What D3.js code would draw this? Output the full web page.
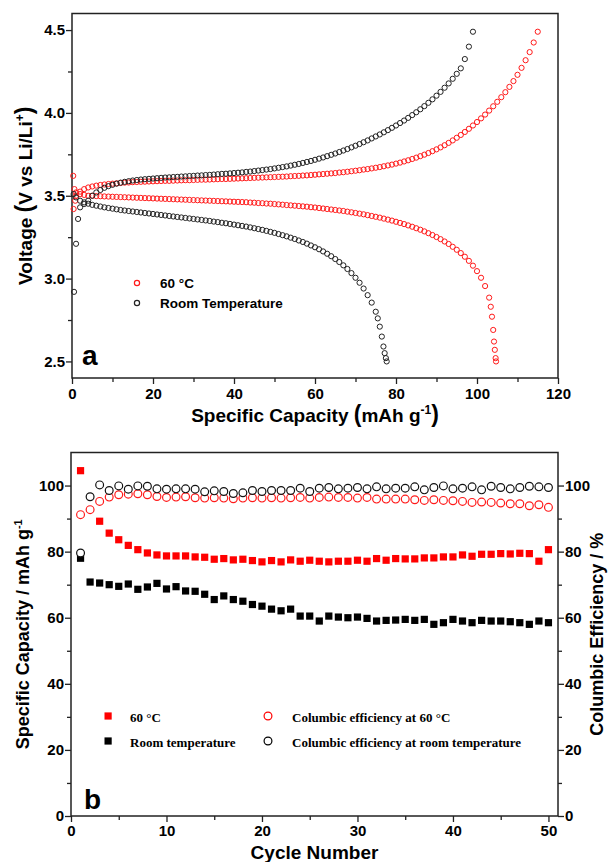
<!DOCTYPE html>
<html>
<head>
<meta charset="utf-8">
<script src="https://cdn.jsdelivr.net/npm/d3@7"></script>
<style>
body { margin: 0; background: #fff; }
svg { display: block; }
text { font-family: "Liberation Sans", Arial, sans-serif; font-weight: bold; fill: #000; }
.serif { font-family: "Liberation Serif", "Times New Roman", serif; }
</style>
</head>
<body>
<div id="chart-area"></div>
<script>
/*
*  charge / discharge curves (a) and cycling (b)
*/

// ---- panel a data : [capacity mAh/g, voltage V] ----
// first few points, then one reading per 1 mAh/g, then the steep end
var redChargeHead = [[0.4, 3.42], [0.8, 3.47]];
var redChargeV = [3.50, 3.525, 3.54, 3.55, 3.556, 3.561, 3.565, 3.568, 3.571, 3.573,
	3.575, 3.577, 3.579, 3.580, 3.582, 3.583, 3.584, 3.585, 3.586, 3.587,
	3.588, 3.589, 3.590, 3.590, 3.591, 3.592, 3.593, 3.594, 3.594, 3.595,
	3.596, 3.597, 3.597, 3.598, 3.599, 3.600, 3.601, 3.601, 3.602, 3.603,
	3.604, 3.605, 3.606, 3.607, 3.608, 3.609, 3.610, 3.611, 3.612, 3.613,
	3.614, 3.615, 3.616, 3.618, 3.619, 3.620, 3.622, 3.623, 3.625, 3.627,
	3.629, 3.631, 3.633, 3.635, 3.637, 3.640, 3.642, 3.645, 3.648, 3.651,
	3.654, 3.658, 3.661, 3.665, 3.669, 3.673, 3.678, 3.683, 3.688, 3.694,
	3.700, 3.707, 3.714, 3.722, 3.730, 3.739, 3.748, 3.758, 3.769, 3.780,
	3.792, 3.805, 3.819, 3.834, 3.850, 3.867, 3.885, 3.904, 3.924, 3.945,
	3.967, 3.990, 4.014, 4.040, 4.067, 4.095, 4.125, 4.157, 4.192, 4.230,
	4.272, 4.318, 4.367, 4.425, 4.49];
var redChargeTail = [];

var redDisHead = [[0.3, 3.62], [0.6, 3.54]];
var redDisV = [3.52, 3.51, 3.505, 3.50, 3.50, 3.498, 3.497, 3.496, 3.495, 3.494,
	3.493, 3.492, 3.491, 3.490, 3.489, 3.488, 3.487, 3.486, 3.485, 3.484,
	3.483, 3.482, 3.481, 3.480, 3.479, 3.478, 3.477, 3.476, 3.475, 3.474,
	3.473, 3.472, 3.471, 3.470, 3.469, 3.468, 3.467, 3.466, 3.465, 3.464,
	3.463, 3.462, 3.461, 3.459, 3.458, 3.456, 3.455, 3.453, 3.452, 3.450,
	3.448, 3.446, 3.444, 3.442, 3.440, 3.438, 3.436, 3.434, 3.431, 3.429,
	3.426, 3.423, 3.420, 3.417, 3.414, 3.411, 3.408, 3.404, 3.400, 3.396,
	3.392, 3.388, 3.383, 3.378, 3.373, 3.368, 3.362, 3.356, 3.350, 3.343,
	3.336, 3.329, 3.321, 3.313, 3.304, 3.295, 3.285, 3.274, 3.263, 3.251,
	3.238, 3.224, 3.209, 3.192, 3.174, 3.154, 3.132, 3.107, 3.078, 3.045,
	3.005, 2.955, 2.885];
var redDisTail = [[103.4, 2.83], [103.7, 2.77], [104.0, 2.69], [104.2, 2.62],
	[104.4, 2.57], [104.6, 2.52], [104.7, 2.50]];

var rtChargeHead = [[0.5, 2.92], [1.0, 3.21], [1.5, 3.36], [2.0, 3.43]];
var rtChargeV = [3.45, 3.47, 3.50, 3.52, 3.535, 3.548, 3.558, 3.566, 3.573,
	3.579, 3.584, 3.588, 3.592, 3.595, 3.598, 3.600, 3.602, 3.604, 3.606,
	3.608, 3.610, 3.611, 3.613, 3.614, 3.616, 3.617, 3.619, 3.620, 3.622,
	3.623, 3.625, 3.626, 3.628, 3.630, 3.632, 3.633, 3.635, 3.637, 3.639,
	3.641, 3.644, 3.646, 3.649, 3.652, 3.655, 3.658, 3.661, 3.665, 3.669,
	3.673, 3.677, 3.682, 3.687, 3.692, 3.698, 3.704, 3.710, 3.717, 3.724,
	3.731, 3.739, 3.747, 3.755, 3.764, 3.773, 3.782, 3.792, 3.802, 3.812,
	3.823, 3.834, 3.846, 3.858, 3.870, 3.883, 3.896, 3.910, 3.924, 3.939,
	3.954, 3.970, 3.987, 4.004, 4.022, 4.041, 4.061, 4.082, 4.104, 4.127,
	4.152, 4.178, 4.206, 4.236, 4.269, 4.325, 4.40, 4.49];
var rtChargeTail = [];

var rtDisHead = [[0.4, 3.51]];
var rtDisV = [3.49, 3.47, 3.46, 3.452, 3.445, 3.44, 3.435, 3.43, 3.426, 3.422,
	3.418, 3.414, 3.411, 3.408, 3.405, 3.402, 3.399, 3.396, 3.393, 3.390,
	3.387, 3.384, 3.381, 3.378, 3.375, 3.372, 3.369, 3.366, 3.363, 3.360,
	3.357, 3.354, 3.351, 3.348, 3.344, 3.341, 3.337, 3.334, 3.330, 3.326,
	3.322, 3.318, 3.314, 3.309, 3.304, 3.299, 3.294, 3.288, 3.282, 3.276,
	3.269, 3.262, 3.255, 3.247, 3.239, 3.230, 3.221, 3.211, 3.200, 3.189,
	3.177, 3.164, 3.150, 3.135, 3.118, 3.100, 3.080, 3.058, 3.033, 3.005,
	2.975, 2.940, 2.900, 2.855, 2.80];
var rtDisTail = [[75.5, 2.76], [76.0, 2.71], [76.5, 2.65], [76.9, 2.59],
	[77.2, 2.55], [77.5, 2.52], [77.7, 2.50]];

// ---- panel b data : cycle 1..50 ----
var cycles = d3.range(1, 51);
var cap60 = [104.5, null, 89.2, 85.6, 83.6, 81.9, 80.6, 79.6, 79.0, 78.7,
	78.7, 78.7, 78.4, 78.3, 77.7, 77.9, 77.5, 77.7, 77.3, 76.9,
	77.3, 76.9, 77.5, 77.1, 77.4, 77.1, 76.9, 77.1, 77.1, 77.4,
	77.1, 77.9, 77.4, 77.9, 77.8, 77.8, 78.1, 78.1, 78.4, 78.4,
	79.0, 78.6, 79.2, 79.2, 79.4, 79.3, 79.5, 79.4, 77.1, 80.6];
var capRT = [78.0, 70.8, 70.5, 70.0, 69.5, 70.2, 68.6, 69.3, 70.4, 68.7,
	69.4, 68.1, 68.0, 67.1, 65.5, 66.6, 65.5, 65.0, 64.0, 63.5,
	62.6, 62.1, 62.6, 60.5, 60.5, 59.0, 60.5, 60.2, 60.0, 60.2,
	59.8, 59.0, 59.2, 59.3, 59.5, 59.2, 59.5, 58.0, 58.5, 59.5,
	59.0, 58.5, 59.2, 59.0, 59.0, 58.8, 58.5, 58.0, 59.0, 58.5];
var ce60 = [91.2, 92.7, 95.2, 96.5, 97.2, 97.4, 97.5, 97.2, 96.7, 96.4,
	96.5, 96.6, 96.3, 96.2, 96.3, 96.2, 96.0, 96.2, 96.3, 96.2,
	96.3, 96.2, 96.3, 96.4, 96.2, 96.4, 96.5, 96.4, 96.4, 96.2,
	96.4, 95.9, 95.9, 95.9, 95.9, 95.7, 95.5, 95.7, 95.5, 95.4,
	95.2, 94.9, 95.0, 94.9, 94.7, 94.5, 94.5, 93.9, 94.2, 93.4];
var ceRT = [79.6, 96.6, 100.2, 98.5, 99.9, 98.9, 99.9, 99.8, 99.0, 98.9,
	99.0, 99.0, 98.9, 98.1, 98.4, 98.2, 97.6, 97.8, 98.5, 98.2,
	98.5, 98.5, 98.5, 99.2, 98.2, 99.2, 99.4, 99.0, 99.2, 99.4,
	99.0, 99.6, 99.0, 99.2, 99.2, 99.6, 98.7, 99.4, 99.9, 99.0,
	99.2, 99.6, 98.7, 99.8, 99.4, 99.0, 99.4, 99.8, 99.6, 99.4];

function curve(head, vals, tail, c0) {
	return head.concat(vals.map(function(v, i){ return [c0 + i, v]; })).concat(tail);
}

var svg = d3.select("#chart-area")
	.append("svg")
		.attr("width", 611)
		.attr("height", 862);

// ================= panel a =================
var xA = d3.scaleLinear().domain([0, 120]).range([72, 558]);
var yA = d3.scaleLinear().domain([2.4, 4.6]).range([378, 13.5]);

svg.append("rect")
	.attr("x", xA(0)).attr("y", yA(4.6))
	.attr("width", xA(120) - xA(0)).attr("height", yA(2.4) - yA(4.6))
	.attr("fill", "none").attr("stroke", "#222").attr("stroke-width", 1.5);

function styleAxis(sel) {
	sel.select(".domain").remove();
	sel.selectAll(".tick line").attr("stroke", "#222").attr("stroke-width", 1.3);
	sel.selectAll(".tick text").attr("font-size", "15px").attr("font-family", "Liberation Sans, Arial, sans-serif").attr("font-weight", "bold");
}

svg.append("g")
	.attr("transform", "translate(0," + yA(2.4) + ")")
	.call(d3.axisBottom(xA).tickValues([0, 20, 40, 60, 80, 100, 120]).tickSize(6).tickPadding(4))
	.call(styleAxis);
svg.append("g")
	.attr("transform", "translate(0," + yA(2.4) + ")")
	.call(d3.axisBottom(xA).tickValues([10, 30, 50, 70, 90, 110]).tickSize(4).tickFormat(""))
	.call(styleAxis);
svg.append("g")
	.attr("transform", "translate(" + xA(0) + ",0)")
	.call(d3.axisLeft(yA).tickValues([2.5, 3, 3.5, 4, 4.5]).tickSize(6).tickPadding(1).tickFormat(d3.format(".1f")))
	.call(styleAxis);
svg.append("g")
	.attr("transform", "translate(" + xA(0) + ",0)")
	.call(d3.axisLeft(yA).tickValues([2.75, 3.25, 3.75, 4.25]).tickSize(4).tickFormat(""))
	.call(styleAxis);

var seriesA = [
	{pts: curve(redChargeHead, redChargeV, redChargeTail, 1), color: "#ff1a1a"},
	{pts: curve(redDisHead, redDisV, redDisTail, 1), color: "#ff1a1a"},
	{pts: curve(rtChargeHead, rtChargeV, rtChargeTail, 3), color: "#222"},
	{pts: curve(rtDisHead, rtDisV, rtDisTail, 1), color: "#222"}
];

seriesA.forEach(function(s){
	svg.append("g").selectAll("circle")
		.data(s.pts)
		.enter().append("circle")
			.attr("cx", function(d){ return xA(d[0]); })
			.attr("cy", function(d){ return yA(d[1]); })
			.attr("r", 2.6)
			.attr("fill", "none")
			.attr("stroke", s.color)
			.attr("stroke-width", 1);
});

// legend a
var legA = [{label: "60 °C", color: "#ff1a1a"}, {label: "Room Temperature", color: "#222"}];
legA.forEach(function(l, i){
	svg.append("circle")
		.attr("cx", 137).attr("cy", 283 + i * 20).attr("r", 2.6)
		.attr("fill", "none").attr("stroke", l.color).attr("stroke-width", 1.2);
	svg.append("text")
		.attr("x", 160).attr("y", 288 + i * 20)
		.attr("font-size", "13.5px")
		.text(l.label);
});

svg.append("text").attr("x", 82).attr("y", 365).attr("font-size", "28px").text("a");

var xLabelA = svg.append("text")
	.attr("x", (xA(0) + xA(120)) / 2).attr("y", 422)
	.attr("font-size", "19px").attr("text-anchor", "middle");
xLabelA.append("tspan").text("Specific Capacity ");
xLabelA.append("tspan").attr("font-size", "23px").text("(");
xLabelA.append("tspan").text("mAh g");
xLabelA.append("tspan").attr("font-size", "12px").attr("dy", "-8").text("-1");
xLabelA.append("tspan").attr("font-size", "23px").attr("dy", "8").text(")");

var yLabelA = svg.append("text")
	.attr("transform", "translate(32," + ((yA(2.4) + yA(4.6)) / 2) + ") rotate(-90)")
	.attr("font-size", "19px").attr("text-anchor", "middle");
yLabelA.append("tspan").text("Voltage ");
yLabelA.append("tspan").attr("font-size", "23px").text("(");
yLabelA.append("tspan").text("V vs Li/Li");
yLabelA.append("tspan").attr("font-size", "12px").attr("dy", "-8").text("+");
yLabelA.append("tspan").attr("font-size", "23px").attr("dy", "8").text(")");

// ================= panel b =================
var xB = d3.scaleLinear().domain([0, 51]).range([71, 558]);
var yB = d3.scaleLinear().domain([0, 110]).range([816, 452.5]);

svg.append("rect")
	.attr("x", xB(0)).attr("y", yB(110))
	.attr("width", xB(51) - xB(0)).attr("height", yB(0) - yB(110))
	.attr("fill", "none").attr("stroke", "#222").attr("stroke-width", 1.5);

svg.append("g")
	.attr("transform", "translate(0," + yB(0) + ")")
	.call(d3.axisBottom(xB).tickValues([0, 10, 20, 30, 40, 50]).tickSize(6).tickPadding(3))
	.call(styleAxis);
svg.append("g")
	.attr("transform", "translate(0," + yB(0) + ")")
	.call(d3.axisBottom(xB).tickValues([5, 15, 25, 35, 45]).tickSize(4).tickFormat(""))
	.call(styleAxis);
svg.append("g")
	.attr("transform", "translate(" + xB(0) + ",0)")
	.call(d3.axisLeft(yB).tickValues([0, 20, 40, 60, 80, 100]).tickSize(6).tickPadding(1))
	.call(styleAxis);
svg.append("g")
	.attr("transform", "translate(" + xB(0) + ",0)")
	.call(d3.axisLeft(yB).tickValues([10, 30, 50, 70, 90]).tickSize(4).tickFormat(""))
	.call(styleAxis);
svg.append("g")
	.attr("transform", "translate(" + xB(51) + ",0)")
	.call(d3.axisRight(yB).tickValues([0, 20, 40, 60, 80, 100]).tickSize(6).tickPadding(1))
	.call(styleAxis);
svg.append("g")
	.attr("transform", "translate(" + xB(51) + ",0)")
	.call(d3.axisRight(yB).tickValues([10, 30, 50, 70, 90]).tickSize(4).tickFormat(""))
	.call(styleAxis);

function squares(vals, color) {
	svg.append("g").selectAll("rect")
		.data(cycles.filter(function(c){ return vals[c - 1] != null; }))
		.enter().append("rect")
			.attr("x", function(c){ return xB(c) - 3.6; })
			.attr("y", function(c){ return yB(vals[c - 1]) - 3.6; })
			.attr("width", 7.2).attr("height", 7.2)
			.attr("fill", color);
}
function rings(vals, color) {
	svg.append("g").selectAll("circle")
		.data(cycles)
		.enter().append("circle")
			.attr("cx", function(c){ return xB(c); })
			.attr("cy", function(c){ return yB(vals[c - 1]); })
			.attr("r", 3.9)
			.attr("fill", "#fff")
			.attr("stroke", color)
			.attr("stroke-width", 1.2);
}
squares(cap60, "#ff0000");
squares(capRT, "#000");
rings(ce60, "#ff1a1a");
rings(ceRT, "#111");

// legend b
var legB = [
	{label: "60 °C", color: "#ff0000", ce: "Columbic efficiency at 60 °C"},
	{label: "Room temperature", color: "#000", ce: "Columbic efficiency at room temperature"}
];
legB.forEach(function(l, i){
	var yy = 716 + i * 25;
	svg.append("rect").attr("x", 104.5).attr("y", yy - 3.6).attr("width", 7.2).attr("height", 7.2).attr("fill", l.color);
	svg.append("text").attr("class", "serif").attr("x", 130).attr("y", yy + 6).attr("font-size", "13px").text(l.label);
	svg.append("circle").attr("cx", 268).attr("cy", yy).attr("r", 3.9)
		.attr("fill", "none").attr("stroke", l.color).attr("stroke-width", 1.2);
	svg.append("text").attr("class", "serif").attr("x", 292).attr("y", yy + 6).attr("font-size", "13px").text(l.ce);
});

svg.append("text").attr("x", 84).attr("y", 809).attr("font-size", "28px").text("b");

svg.append("text")
	.attr("x", (xB(0) + xB(51)) / 2).attr("y", 859)
	.attr("font-size", "19px").attr("text-anchor", "middle")
	.text("Cycle Number");

var yLabelB = svg.append("text")
	.attr("transform", "translate(29," + ((yB(0) + yB(110)) / 2) + ") rotate(-90)")
	.attr("font-size", "18px").attr("text-anchor", "middle");
yLabelB.append("tspan").text("Specific Capacity / mAh g");
yLabelB.append("tspan").attr("font-size", "11px").attr("dy", "-7").text("-1");

svg.append("text")
	.attr("transform", "translate(603," + ((yB(0) + yB(110)) / 2) + ") rotate(-90)")
	.attr("font-size", "18px").attr("text-anchor", "middle")
	.text("Columbic Efficiency / %");
</script>
</body>
</html>
